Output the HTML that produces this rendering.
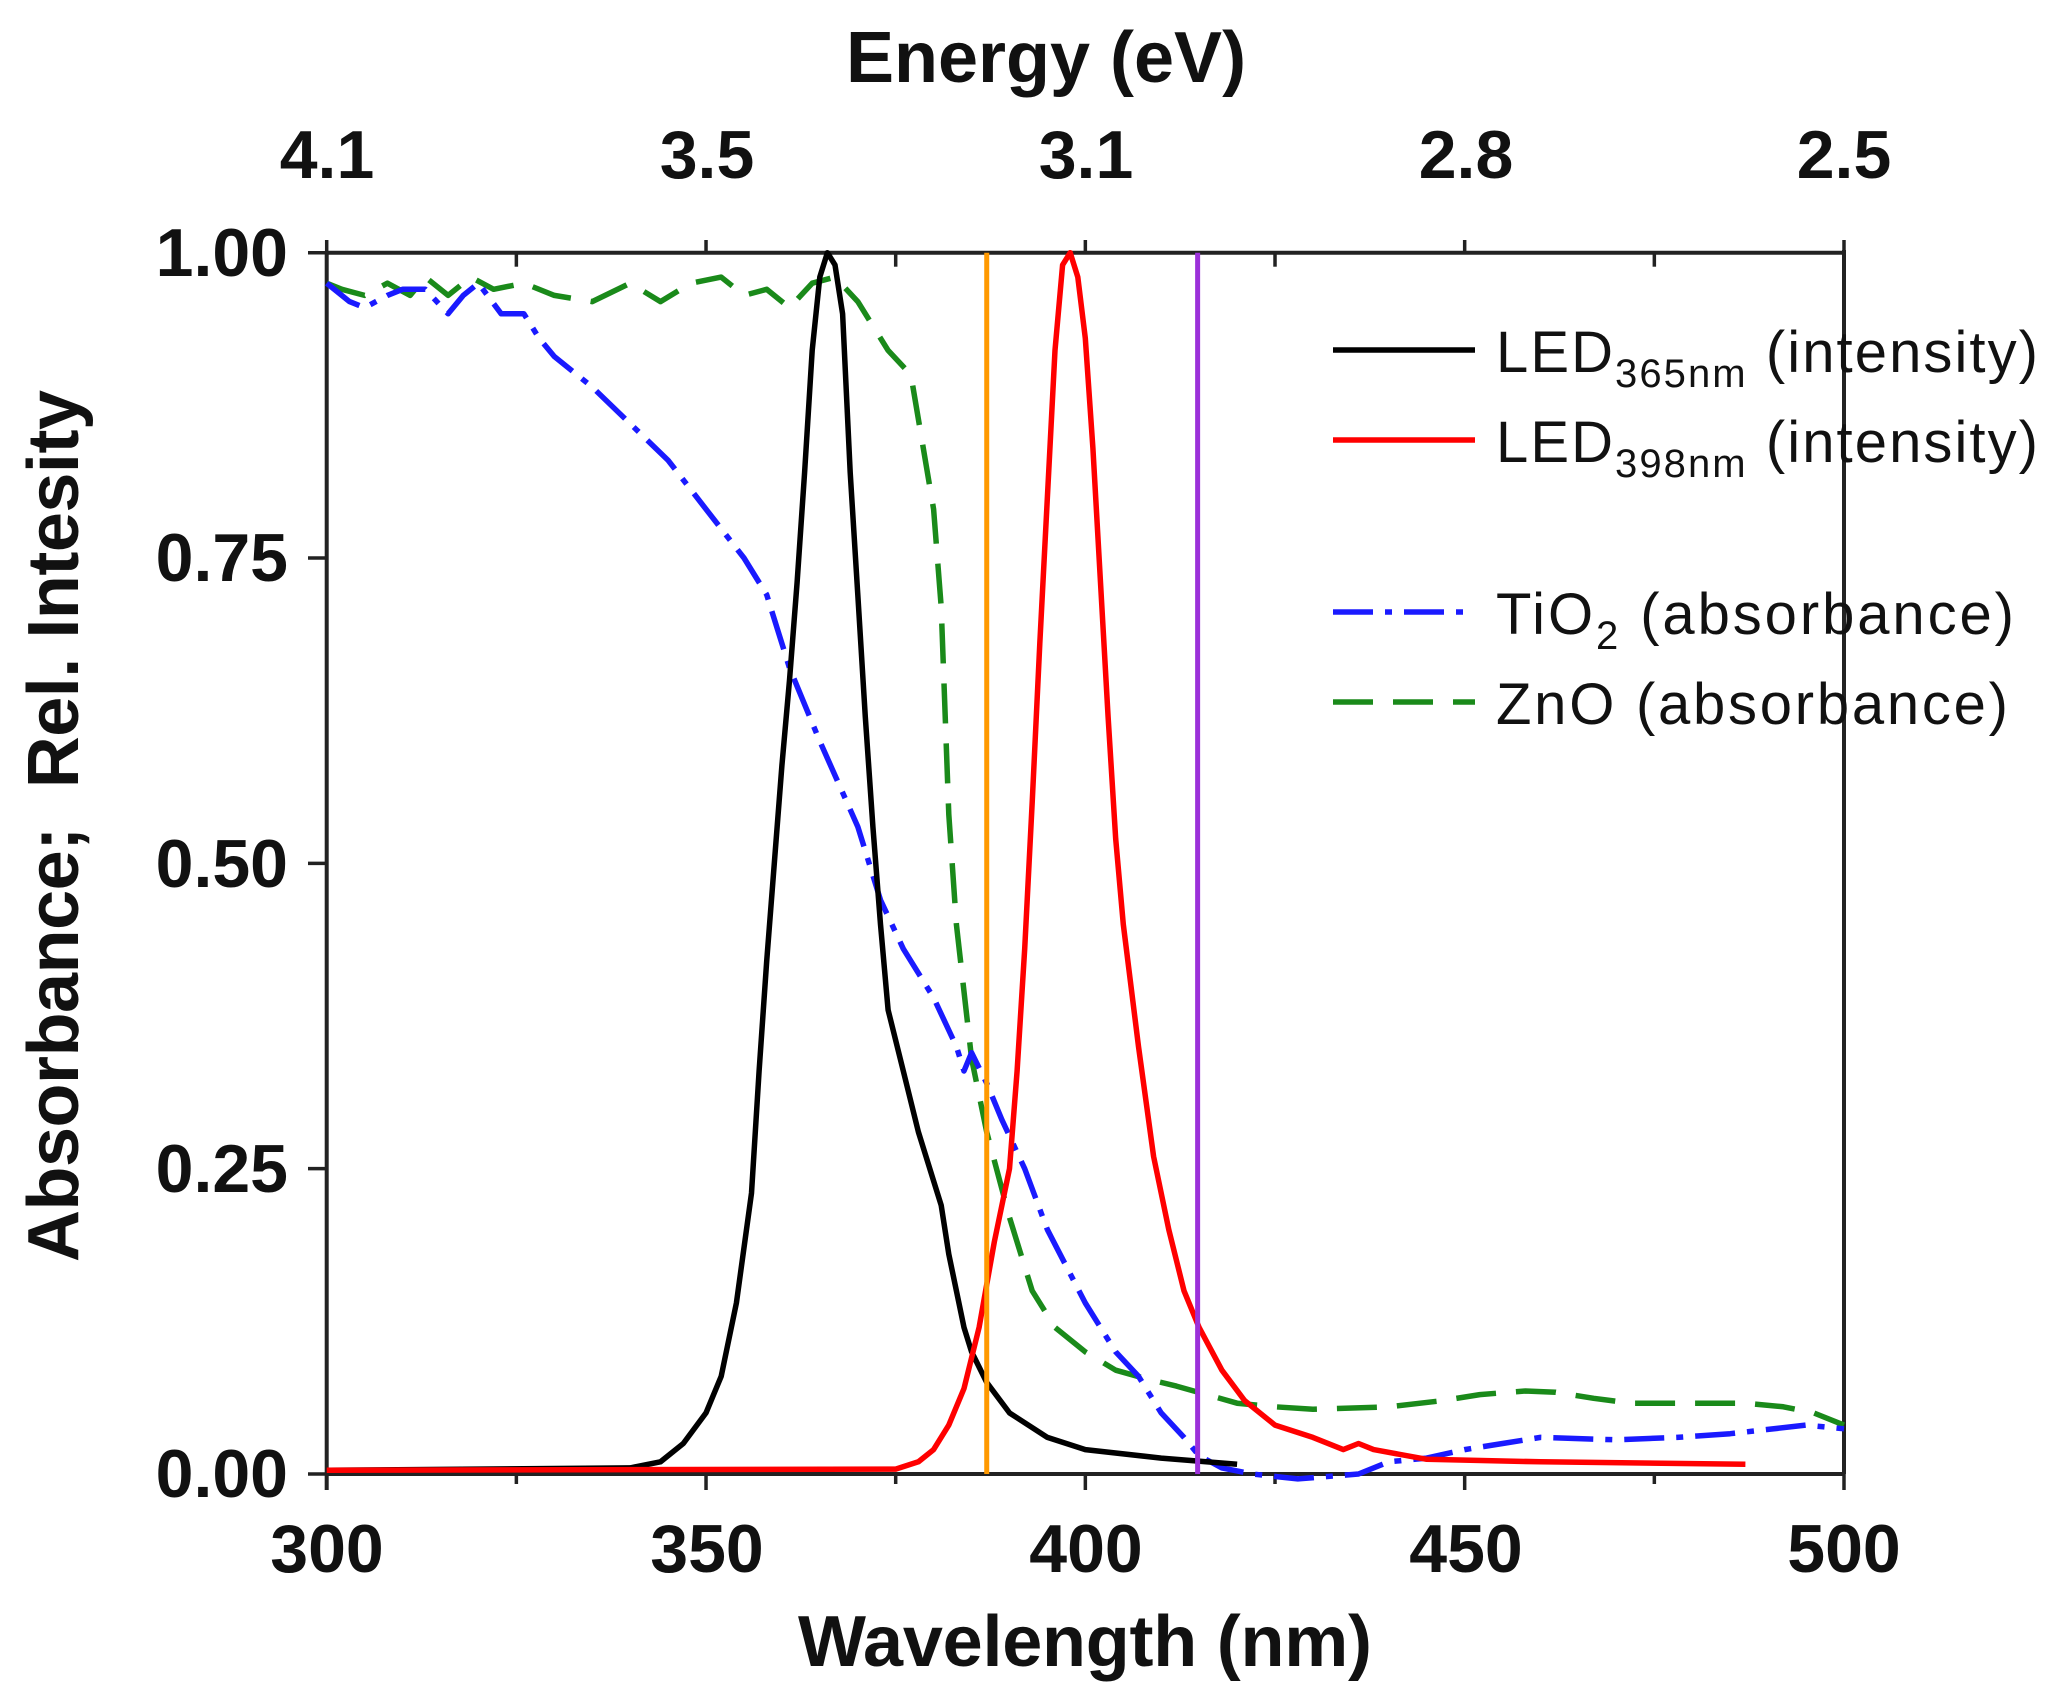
<!DOCTYPE html>
<html><head><meta charset="utf-8"><style>
html,body{margin:0;padding:0;background:#fff;}
svg{display:block;}
text{font-family:"Liberation Sans",Arial,sans-serif;}
.tk{font-weight:bold;font-size:68px;fill:#111;}
.ttl{font-weight:bold;font-size:72px;fill:#111;}
.lg{font-size:58px;fill:#111;}
</style></head><body>
<svg id="s" width="2057" height="1697" viewBox="0 0 2057 1697" xmlns="http://www.w3.org/2000/svg">
<g id="axes" stroke="#222" stroke-width="4" fill="none">
<line x1="326.7" y1="1474" x2="1844" y2="1474"/>
<line x1="326.7" y1="252.7" x2="1844" y2="252.7"/>
<line x1="326.7" y1="252.7" x2="326.7" y2="1490"/>
<line x1="1844" y1="250" x2="1844" y2="1474"/>
</g>
<g id="ticks" stroke="#222" stroke-width="3.5"></g>
<g id="curves" fill="none" stroke-linejoin="round"></g>
<g class="tk" text-anchor="middle">
<text x="327" y="1572">300</text><text x="707" y="1572">350</text><text x="1086" y="1572">400</text><text x="1466" y="1572">450</text><text x="1844" y="1572">500</text>
<text x="327" y="178">4.1</text><text x="707" y="178">3.5</text><text x="1086" y="178">3.1</text><text x="1466" y="178">2.8</text><text x="1844" y="178">2.5</text>
</g>
<g class="tk" text-anchor="end">
<text x="288" y="276">1.00</text><text x="288" y="581">0.75</text><text x="288" y="887">0.50</text><text x="288" y="1192">0.25</text><text x="288" y="1497">0.00</text>
</g>
<text class="ttl" x="1085" y="1666" text-anchor="middle" textLength="574">Wavelength (nm)</text>
<text class="ttl" x="1046" y="82" text-anchor="middle">Energy (eV)</text>
<text class="ttl" transform="translate(78,826) rotate(-90)" text-anchor="middle" textLength="872">Absorbance;&#160;&#160;Rel. Intesity</text>
<g stroke-width="5.5" fill="none">
<line x1="1333" y1="350" x2="1475" y2="350" stroke="#000"/>
<line x1="1333" y1="440" x2="1475" y2="440" stroke="#f00"/>
<line x1="1333" y1="612" x2="1475" y2="612" stroke="#1a1aff" stroke-dasharray="40,12,7,12"/>
<line x1="1333" y1="702" x2="1475" y2="702" stroke="#1a8a1a" stroke-dasharray="40,20"/>
</g>
<g class="lg">
<text x="1496" y="372" textLength="542">LED<tspan font-size="40" dy="15">365nm</tspan><tspan dy="-15"> (intensity)</tspan></text>
<text x="1496" y="462" textLength="542">LED<tspan font-size="40" dy="15">398nm</tspan><tspan dy="-15"> (intensity)</tspan></text>
<text x="1496" y="634" textLength="518">TiO<tspan font-size="40" dy="15">2</tspan><tspan dy="-15"> (absorbance)</tspan></text>
<text x="1496" y="724" textLength="512">ZnO (absorbance)</text>
</g>
</svg>
<script>
var X=function(n){return 326.7+(n-300)*7.5865;},Y=function(v){return 1474-v*1221.3;};
var NS="http://www.w3.org/2000/svg";
function el(p,t,a){var e=document.createElementNS(NS,t);for(var k in a)e.setAttribute(k,a[k]);p.appendChild(e);return e;}
var tk=document.getElementById("ticks");
for(var n=300;n<=500;n+=25){var maj=(n%50==0);el(tk,"line",{x1:X(n),x2:X(n),y1:1474,y2:1474+(maj?16:10)});
 if(n>300&&n<500)el(tk,"line",{x1:X(n),x2:X(n),y1:252.7,y2:252.7+(maj?0:14)});
 if(maj)el(tk,"line",{x1:X(n),x2:X(n),y1:252.7,y2:240});}
for(var v=0;v<=1.001;v+=0.25)el(tk,"line",{x1:308,x2:326.7,y1:Y(v),y2:Y(v)});
var cv=document.getElementById("curves");
function P(d,c,da){var s="";for(var i=0;i<d.length;i+=2)s+=(i?"L":"M")+X(d[i]).toFixed(1)+","+Y(d[i+1]).toFixed(1);var a={d:s,stroke:c,"stroke-width":5.5};if(da)a["stroke-dasharray"]=da;el(cv,"path",a);}
P([300,.975,302,.97,305,.965,308,.975,311,.965,313,.98,316,.965,319,.98,322,.97,326,.975,330,.965,335,.96,340,.975,344,.96,348,.975,352,.98,355,.965,358,.97,361,.955,364,.975,367,.98,370,.96,374,.92,377,.9,380,.79,381,.71,382,.54,383,.45,385,.34,387,.28,390,.21,393,.15,396,.12,400,.1,404,.085,408,.078,412,.072,416,.065,420,.058,425,.055,430,.053,440,.055,447,.06,452,.065,458,.068,462,.067,467,.062,472,.058,480,.058,487,.058,492,.055,496,.05,500,.04],"#1a8a1a","40,20");
P([300,.975,303,.96,305,.955,308,.965,310,.97,313,.97,316,.95,318,.965,320,.975,323,.95,326,.95,328,.93,330,.915,335,.89,340,.86,345,.83,350,.79,355,.75,358,.72,361,.66,365,.6,370,.53,373,.47,376,.43,380,.39,383,.35,384,.33,385,.345,387,.32,389,.29,392,.25,395,.2,400,.14,404,.1,407,.08,410,.05,413,.03,415,.015,418,.005,422,0,428,-.004,436,0,440,.01,445,.013,450,.02,455,.025,460,.03,470,.028,478,.03,485,.033,495,.04,500,.037],"#1a1aff","40,12,7,12");
P([300,.003,340,.005,344,.01,347,.025,350,.05,352,.08,354,.14,356,.23,357,.33,358,.42,359,.5,360,.58,361,.65,362,.73,363,.82,364,.92,365,.98,366,1,367,.99,368,.95,369,.82,370,.72,371,.62,372,.53,373,.45,374,.38,376,.33,378,.28,380,.24,381,.22,382,.18,383,.15,384,.12,385,.1,387,.075,390,.05,395,.03,400,.02,410,.013,420,.008],"#000");
P([300,.003,375,.004,378,.01,380,.02,382,.04,384,.07,386,.12,388,.19,390,.25,391,.33,392,.43,393,.55,394,.68,395,.8,396,.92,397,.99,398,1,399,.98,400,.93,401,.84,402,.73,403,.62,404,.52,405,.45,407,.35,409,.26,411,.2,413,.15,415,.12,418,.085,421,.06,425,.04,430,.03,434,.02,436,.025,438,.02,445,.012,460,.01,487,.008],"#f00");
el(cv,"line",{x1:X(387),x2:X(387),y1:252.7,y2:1474,stroke:"#ff9900","stroke-width":5});
el(cv,"line",{x1:X(414.8),x2:X(414.8),y1:252.7,y2:1474,stroke:"#9b30d9","stroke-width":5});
</script>
</body></html>
